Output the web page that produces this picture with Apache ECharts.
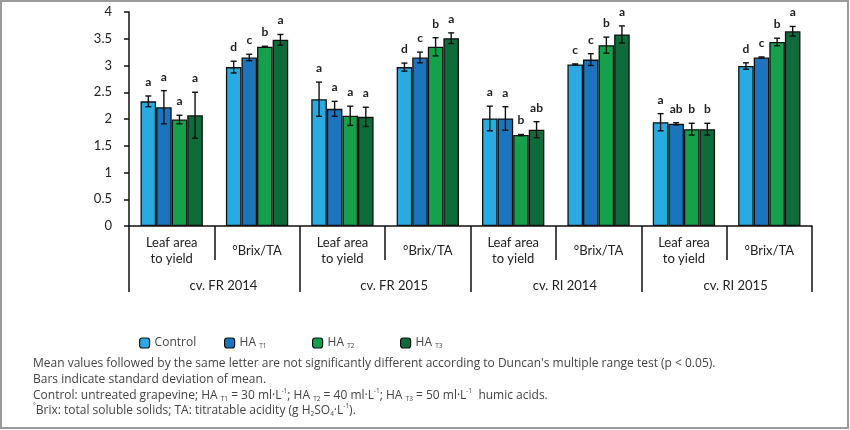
<!DOCTYPE html>
<html>
<head>
<meta charset="utf-8">
<script src="https://cdn.jsdelivr.net/npm/echarts@6/dist/echarts.min.js"></script>
<style>html,body{margin:0;padding:0;background:#fff}#c{width:850px;height:430px}</style>
</head>
<body>
<div id="c"></div>
<script>
var innerCats = ['Leaf area\nto yield', '°Brix/TA', 'Leaf area\nto yield', '°Brix/TA', 'Leaf area\nto yield', '°Brix/TA', 'Leaf area\nto yield', '°Brix/TA'];
var outerCats = ['cv. FR 2014', 'cv. FR 2015', 'cv. RI 2014', 'cv. RI 2015'];
var yTicks = [0, 0.5, 1, 1.5, 2, 2.5, 3, 3.5, 4];
var seriesNames = ['Control', 'HA T1', 'HA T2', 'HA T3'];

var controlVals = [2.33, 2.97, 2.37, 2.97, 2.01, 3.02, 1.94, 2.99];
var t1Vals      = [2.22, 3.15, 2.19, 3.15, 2.01, 3.11, 1.91, 3.15];
var t2Vals      = [1.99, 3.35, 2.06, 3.35, 1.70, 3.38, 1.81, 3.44];
var t3Vals      = [2.07, 3.48, 2.04, 3.51, 1.80, 3.58, 1.81, 3.64];

var controlErr = [0.10, 0.11, 0.32, 0.075, 0.23, 0.01, 0.16, 0.06];
var t1Err      = [0.31, 0.06, 0.14, 0.10, 0.22, 0.11, 0.02, 0.01];
var t2Err      = [0.08, 0.01, 0.18, 0.17, 0.01, 0.15, 0.11, 0.07];
var t3Err      = [0.43, 0.10, 0.18, 0.10, 0.15, 0.16, 0.11, 0.09];

var controlLet = ['a', 'd', 'a', 'd', 'a', 'c', 'a', 'd'];
var t1Let      = ['a', 'c', 'a', 'c', 'a', 'c', 'ab', 'c'];
var t2Let      = ['a', 'b', 'a', 'b', 'b', 'b', 'b', 'b'];
var t3Let      = ['a', 'a', 'a', 'a', 'ab', 'a', 'b', 'a'];

var colors = ['#29abe2', '#1c75bc', '#16a04c', '#0f6b3a'];
var vals = [controlVals, t1Vals, t2Vals, t3Vals];
var errs = [controlErr, t1Err, t2Err, t3Err];
var lets = [controlLet, t1Let, t2Let, t3Let];

var FONT = 'Lato';
var NOTEFONT = 'Open Sans';
var GAP = 0.27;

var series = [];
seriesNames.forEach(function (name, k) {
  series.push({
    name: name, type: 'bar', xAxisIndex: 0, yAxisIndex: 0,
    barGap: '0%', barCategoryGap: (GAP * 100) + '%',
    data: vals[k],
    itemStyle: { color: colors[k], borderColor: '#111', borderWidth: 1.3 },
    emphasis: { disabled: true }, animation: false
  });
});
seriesNames.forEach(function (name, k) {
  var d = vals[k].map(function (v, i) { return [i, v, errs[k][i], lets[k][i]]; });
  series.push({
    type: 'custom', xAxisIndex: 0, yAxisIndex: 0, z: 5, silent: true, animation: false,
    data: d,
    renderItem: function (params, api) {
      var i = api.value(0), v = api.value(1), e = api.value(2);
      var letter = d[params.dataIndex][3];
      var c = api.coord([i, v]);
      var band = api.size([1, 0])[0];
      var bw = band * (1 - GAP) / 4;
      var cx = c[0] + (k - 1.5) * bw;
      var yTop = api.coord([i, v + e])[1];
      var yBot = api.coord([i, v - e])[1];
      var cap = 3;
      var st = { stroke: '#111', lineWidth: 1.4 };
      return {
        type: 'group',
        children: [
          { type: 'line', shape: { x1: cx, y1: yTop, x2: cx, y2: yBot }, style: st },
          { type: 'line', shape: { x1: cx - cap, y1: yTop, x2: cx + cap, y2: yTop }, style: st },
          { type: 'line', shape: { x1: cx - cap, y1: yBot, x2: cx + cap, y2: yBot }, style: st },
          { type: 'text', x: cx, y: yTop - 14, style: { text: letter, fill: '#222', font: 'bold 12px ' + FONT, align: 'center', verticalAlign: 'middle' } }
        ]
      };
    }
  });
});

var NS = 12;
var subRich = {
  t: { fontSize: NS, fontFamily: NOTEFONT, color: '#444', lineHeight: 15 },
  s: { fontSize: 6.5, fontFamily: NOTEFONT, color: '#444', lineHeight: 15, verticalAlign: 'bottom' },
  p: { fontSize: 6.5, fontFamily: NOTEFONT, color: '#444', lineHeight: 15, verticalAlign: 'top' }
};

function note(text, top) {
  return { text: text, left: 33, top: top, padding: 0,
    textStyle: { fontSize: NS, fontWeight: 'normal', fontFamily: NOTEFONT, color: '#444', rich: subRich } };
}

var legendLefts = [134, 219, 307, 395];
var legends = seriesNames.map(function (n, k) {
  return {
    left: legendLefts[k], top: 332, itemWidth: 10, itemHeight: 10, icon: 'roundRect',
    data: [n], selectedMode: false,
    itemStyle: { borderColor: '#111', borderWidth: 1.2 },
    formatter: function (nm) {
      if (nm === 'Control') return '{n|Control}';
      return '{n|HA} {s|' + nm.split(' ')[1] + '}';
    },
    textStyle: {
      color: '#444', fontFamily: NOTEFONT,
      rich: {
        n: { fontSize: 12, fontFamily: NOTEFONT, color: '#444', lineHeight: 14 },
        s: { fontSize: 6.5, fontFamily: NOTEFONT, color: '#444', lineHeight: 14, verticalAlign: 'bottom' }
      }
    }
  };
});

var option = {
  backgroundColor: '#fff',
  animation: false,
  textStyle: { fontFamily: FONT },
  grid: { left: 129, right: 38, top: 12, bottom: 204 },
  legend: legends,
  title: [
    note('{t|Mean values followed by the same letter are not significantly different according to Duncan\'s multiple range test (p < 0.05).}', 356),
    note('{t|Bars indicate standard deviation of mean.}', 372),
    note('{t|Control: untreated grapevine; HA }{s|T1}{t| = 30 ml·L}{p|-1}{t|; HA }{s|T2}{t| = 40 ml·L}{p|-1}{t|; HA }{s|T3}{t| = 50 ml·L}{p|-1}{t|  humic acids.}', 388),
    note('{p|°}{t|Brix: total soluble solids; TA: titratable acidity (g H}{s|2}{t|SO}{s|4}{t|·L}{p|-1}{t|).}', 403)
  ],
  xAxis: [
    {
      type: 'category', data: innerCats, position: 'bottom',
      axisLine: { show: true, lineStyle: { color: '#111', width: 1.5 } },
      axisTick: { show: true, interval: 0, length: 34, lineStyle: { color: '#111', width: 1.5 } },
      axisLabel: { interval: 0, margin: 25, verticalAlign: 'middle', fontSize: 13, color: '#222', fontFamily: FONT, lineHeight: 16 }
    },
    {
      type: 'category', data: outerCats, position: 'bottom',
      axisLine: { show: false },
      axisTick: { show: true, interval: 0, length: 66, lineStyle: { color: '#111', width: 1.5 } },
      axisLabel: { interval: 0, margin: 60, verticalAlign: 'middle', fontSize: 13, color: '#222', fontFamily: FONT, padding: [0, 0, 0, 18] }
    }
  ],
  yAxis: {
    type: 'value', min: yTicks[0], max: yTicks[yTicks.length - 1], interval: 0.5,
    splitLine: { show: false },
    axisLine: { show: true, lineStyle: { color: '#111', width: 1.5 } },
    axisTick: { show: true, length: 5, lineStyle: { color: '#111', width: 1.5 } },
    axisLabel: { fontSize: 13, color: '#222', margin: 17, fontFamily: FONT }
  },
  graphic: [
    { type: 'rect', shape: { x: 1, y: 1, width: 847, height: 427 }, style: { fill: 'none', stroke: '#9a9a9a', lineWidth: 2 }, silent: true }
  ],
  series: series
};

var chart = echarts.init(document.getElementById('c'), null, { renderer: 'canvas' });
chart.setOption(option);
</script>
</body>
</html>
